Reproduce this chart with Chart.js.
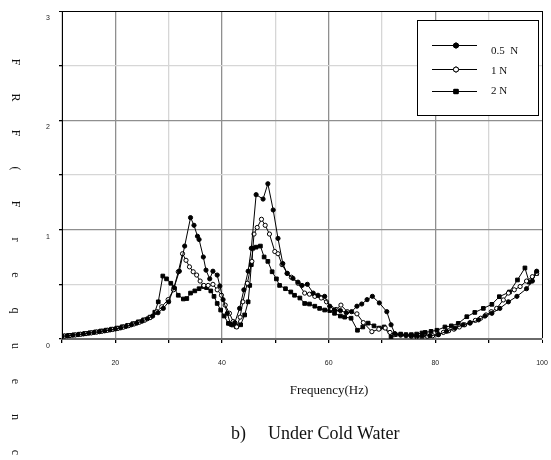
<!DOCTYPE html>
<html><head><meta charset="utf-8">
<script src="https://cdn.jsdelivr.net/npm/chart.js@4"></script>
<style>html,body{margin:0;padding:0;background:#fff}</style>
</head><body>
<canvas id="c" width="551" height="460"></canvas>
<script>
// ---- data ----
const seriesNames = ['0.5  N', '1 N', '2 N'];
const freq05 = [10,11,12,13,14,15,16,17,18,19,20,21,22,23,24,25,26,27,28,29,30,31,32,33,34.1,34.75,35.4,35.7,36.5,37,37.7,38.3,39.1,39.6,40.2,41,41.6,42.4,43.3,44.1,44.9,45.5,46.4,47.7,48.6,49.6,50.5,51.4,52.2,53.3,54.25,55,56,57.1,58,59.25,60.2,61.1,62.2,63.3,64.3,65.3,66.2,67.2,68.2,69.5,70.9,71.7,72.4,73.5,74.5,75.5,76.5,77.5,79,80.6,82.1,83.7,85.2,86.5,88.1,89.3,90.6,92.1,93.7,95.3,97.1,98.2,99];
const frf05 = [.025,.03,.035,.04,.046,.053,.06,.067,.075,.083,.092,.102,.115,.13,.145,.163,.185,.21,.24,.28,.34,.47,.62,.85,1.11,1.04,.94,.91,.75,.63,.55,.62,.585,.485,.36,.235,.134,.15,.28,.45,.62,.83,1.32,1.28,1.42,1.18,.92,.69,.6,.555,.52,.49,.50,.42,.40,.39,.30,.265,.26,.24,.25,.30,.32,.36,.39,.33,.25,.13,.05,.04,.035,.03,.03,.03,.03,.04,.07,.1,.13,.145,.175,.21,.235,.28,.34,.39,.46,.53,.62];
const freq1 = [10.5,11.5,12.5,13.5,14.5,15.5,16.5,17.5,18.5,19.5,20.5,21.5,22.5,23.5,24.5,25.5,26.5,27.8,28.7,29.9,30.9,31.8,32.6,33.25,33.9,34.6,35.25,35.9,36.6,37.4,38.3,39.1,39.9,40.6,41.4,42.1,42.75,43.4,43.9,44.75,45.6,46,46.6,47.4,48.1,48.9,49.9,50.5,51.25,52.25,53,54.25,55.5,56.4,57.4,58.6,59.6,60.5,61.4,62.3,63.5,65.3,66.5,68.1,69.4,70.6,71.5,72.4,73.5,74.5,75.5,76.5,77.5,78.5,79.5,80.5,81.5,82.5,83.5,84.5,85.5,86.5,87.5,88.5,89.5,90.5,91.5,92.75,93.7,94.8,95.9,97.1,98.2,99];
const frf1 = [.027,.032,.037,.043,.049,.056,.063,.071,.079,.087,.097,.108,.122,.137,.153,.172,.195,.25,.295,.36,.45,.615,.78,.72,.66,.615,.585,.53,.49,.49,.5,.45,.40,.31,.235,.16,.11,.2,.34,.51,.71,.96,1.02,1.095,1.04,.96,.80,.78,.68,.60,.565,.51,.42,.41,.39,.375,.34,.28,.27,.31,.25,.23,.15,.067,.09,.10,.06,.04,.035,.03,.025,.02,.02,.025,.03,.04,.06,.075,.09,.11,.13,.15,.17,.19,.22,.25,.28,.357,.42,.45,.48,.53,.57,.6];
const freq2 = [10.3,11.3,12.3,13.3,14.3,15.3,16.3,17.3,18.3,19.3,20.3,21.3,22.3,23.3,24.3,25.3,26.5,27.4,28.05,28.9,29.6,30.4,31.1,31.8,32.75,33.4,34.1,34.9,35.7,36.5,37.1,37.9,38.5,39.1,39.75,40.4,41.2,42,42.7,43.5,44.25,44.9,45.2,45.5,45.8,46.4,47.2,47.9,48.6,49.4,50.2,50.8,51.9,52.9,53.6,54.6,55.5,56.4,57.4,58.3,59.25,60.2,61.1,62.2,63,64.2,65.4,66.4,67.4,68.5,69.5,70.4,71.7,72.5,73.5,74.5,75.5,76.5,77.5,78.1,79.2,80.3,81.8,83,84.3,85.9,87.4,89,90.6,92,93.9,95.4,96.8,97.6,99];
const frf2 = [.028,.033,.038,.044,.05,.057,.065,.073,.081,.09,.1,.112,.125,.14,.157,.175,.2,.245,.34,.576,.55,.51,.46,.40,.366,.37,.42,.44,.46,.48,.47,.44,.39,.325,.265,.21,.143,.128,.113,.13,.22,.34,.49,.68,.83,.84,.85,.75,.71,.615,.55,.49,.46,.43,.40,.375,.325,.32,.30,.28,.265,.26,.235,.21,.2,.19,.08,.11,.145,.12,.1,.11,.02,.04,.045,.04,.04,.045,.055,.06,.07,.08,.11,.12,.143,.204,.243,.28,.317,.387,.43,.54,.65,.52,.6];
const xLabelTicks = [20, 40, 60, 80, 100];
const yLabelTicks = [0, 1, 2, 3];
const yTitleText = 'FRF(Frequenc';
const xTitleText = 'Frequency(Hz)';
const captionTag = 'b)';
const captionText = 'Under Cold Water';

const pts = (xs, ys) => xs.map((x, i) => ({x: x, y: ys[i]}));

const textPlugin = {
  id: 'texts',
  afterDraw(chart) {
    const ctx = chart.ctx;
    ctx.save();
    ctx.fillStyle = '#111';
    // vertical y title: each glyph rotated clockwise
    ctx.font = '12px "Liberation Serif"';
    ctx.textAlign = 'center';
    ctx.textBaseline = 'middle';
    [...yTitleText].forEach((ch, i) => {
      ctx.save();
      ctx.translate(15, 62 + i * 35.5);
      ctx.rotate(Math.PI / 2);
      ctx.fillText(ch, 0, 0);
      ctx.restore();
    });
    // x title
    ctx.font = '13px "Liberation Serif"';
    ctx.fillText(xTitleText, 329, 391);
    // caption
    ctx.font = '18px "Liberation Serif"';
    ctx.textAlign = 'left';
    ctx.fillText(captionTag, 231, 434);
    ctx.fillText(captionText, 268, 434);
    // legend
    const L = 417, T = 20, R = 538, B = 115;
    ctx.fillStyle = '#fff';
    ctx.fillRect(L, T, R - L, B - T);
    ctx.strokeStyle = '#000';
    ctx.lineWidth = 1;
    ctx.strokeRect(L + 0.5, T + 0.5, R - L, B - T);
    const lineY = [45, 69, 91];
    const textY = [51, 71, 91];
    chart.data.datasets.forEach((ds, i) => {
      ctx.strokeStyle = '#000';
      ctx.lineWidth = 1;
      ctx.beginPath();
      ctx.moveTo(432, lineY[i] + 0.5);
      ctx.lineTo(477, lineY[i] + 0.5);
      ctx.stroke();
      Chart.helpers.drawPoint(ctx, {
        pointStyle: ds.pointStyle, radius: ds.pointRadius + 0.4, borderWidth: 1, rotation: 0
      }, 456, lineY[i] + 0.5);
      ctx.fillStyle = ds.pointBackgroundColor;
      ctx.fill();
      ctx.strokeStyle = '#000';
      ctx.stroke();
      ctx.fillStyle = '#111';
      ctx.font = '11px "Liberation Serif"';
      ctx.textAlign = 'left';
      ctx.textBaseline = 'middle';
      ctx.fillText(ds.label, 491, textY[i]);
    });
    ctx.restore();
  }
};

const gridMajor = '#8f8f8f', gridMinor = '#d6d6d6';

new Chart(document.getElementById('c'), {
  type: 'line',
  data: {
    datasets: [
      {label: seriesNames[0], data: pts(freq05, frf05), pointStyle: 'circle', pointRadius: 2.1,
       pointBackgroundColor: '#000', pointBorderColor: '#000', pointBorderWidth: 1},
      {label: seriesNames[1], data: pts(freq1, frf1), pointStyle: 'circle', pointRadius: 2.1,
       pointBackgroundColor: '#fff', pointBorderColor: '#000', pointBorderWidth: 1},
      {label: seriesNames[2], data: pts(freq2, frf2), pointStyle: 'rect', pointRadius: 2.6,
       pointBackgroundColor: '#000', pointBorderColor: '#000', pointBorderWidth: 1}
    ].map(d => Object.assign(d, {borderColor: '#000', borderWidth: 1, tension: 0, fill: false}))
  },
  options: {
    responsive: false,
    animation: false,
    devicePixelRatio: 1,
    layout: {padding: {left: 0, top: 11, right: 9, bottom: 0}},
    plugins: {legend: {display: false}, tooltip: {enabled: false}, title: {display: false}},
    scales: {
      x: {
        type: 'linear', min: 10, max: 100,
        afterFit: s => { s.height = 121; s.paddingRight = 0; s.paddingLeft = 0; },
        ticks: {
          stepSize: 10, padding: 16, color: '#222',
          font: {family: 'Liberation Sans', size: 7},
          maxRotation: 0, autoSkip: false,
          callback: v => xLabelTicks.includes(v) ? String(v) : ''
        },
        grid: {
          color: c => c.tick && c.tick.value === 100 ? '#000' : (c.tick && c.tick.value % 20 === 0 ? gridMajor : gridMinor),
          lineWidth: c => c.tick && c.tick.value === 100 ? 1 : 1.3,
          tickColor: '#000', tickLength: 4
        },
        border: {color: '#6a6a6a', width: 2}
      },
      y: {
        type: 'linear', min: 0, max: 3,
        afterFit: s => { s.width = 62; s.paddingTop = 0; s.paddingBottom = 0; },
        ticks: {
          stepSize: 0.5, padding: 9, labelOffset: 7, color: '#222',
          font: {family: 'Liberation Sans', size: 7},
          callback: v => yLabelTicks.includes(v) ? String(v) : ''
        },
        grid: {
          color: c => c.tick && c.tick.value === 3 ? '#000' : (c.tick && Number.isInteger(c.tick.value) ? gridMajor : gridMinor),
          lineWidth: c => c.tick && c.tick.value === 3 ? 1 : 1.3,
          tickColor: '#000', tickLength: 3
        },
        border: {color: '#000', width: 1}
      }
    }
  },
  plugins: [textPlugin]
});
</script>
</body></html>
